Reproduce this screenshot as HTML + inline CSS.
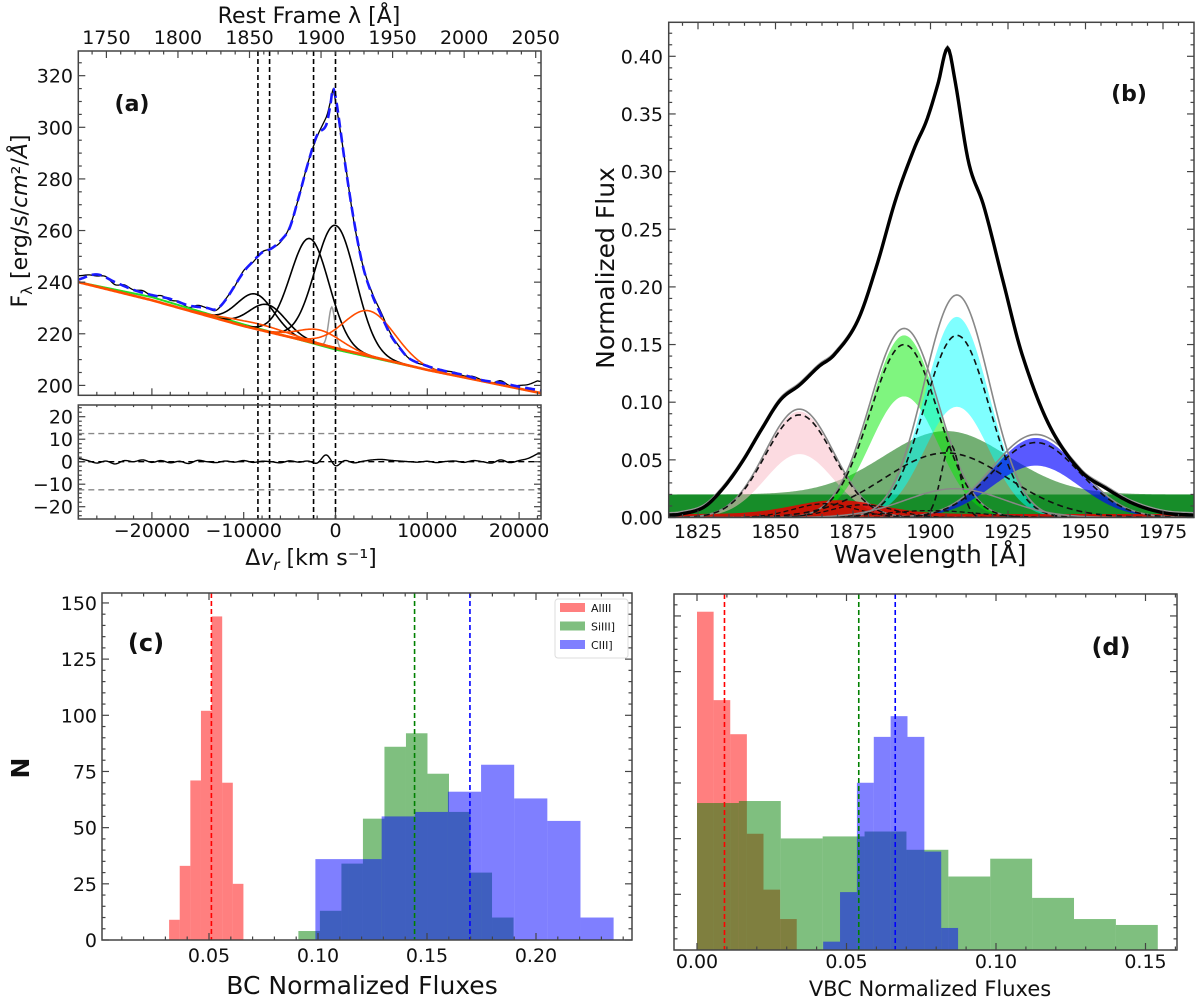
<!DOCTYPE html>
<html><head><meta charset="utf-8"><style>
html,body{margin:0;padding:0;background:#fff;}
svg{display:block;font-family:"DejaVu Sans","Liberation Sans",sans-serif;}
</style></head><body>
<svg id="fig" width="1200" height="1002" viewBox="0 0 1200 1002" xmlns="http://www.w3.org/2000/svg">
<defs>
<clipPath id="clipA"><rect x="78.3" y="51" width="462.7" height="344.3"/></clipPath>
<clipPath id="clipR"><rect x="78.3" y="405" width="462.7" height="114"/></clipPath>
<clipPath id="clipB"><rect x="668.7" y="22.3" width="525.3" height="495.2"/></clipPath>
<clipPath id="clipC"><rect x="102" y="593" width="530" height="347"/></clipPath>
<clipPath id="clipD"><rect x="674" y="594" width="503" height="356"/></clipPath>
</defs>
<rect x="0" y="0" width="1200" height="1002" fill="#fff"/>
<g id="gA"></g>
<g id="gB"></g>
<g id="gC"></g>
<g id="gD"></g>
</svg>
<script>
// ---------- Panel (a) data ----------
const aFitV = [-28000,-26000,-24000,-22000,-20000,-18000,-16000,-14000,-13000,-12000,-10000,-9000,-8000,-7000,-6000,-5000,-4000,-3000,-2000,-1000,-500,-300,0,500,1000,2000,3000,4000,5000,6000,7000,8000,10000,12000,14000,16000,18000,20000,22400];
const aFitF = [241,243,240,237,235,233.5,231,230,229.5,233,244,248,251.5,253,256,261,273,286,297,301,310,315,312,300,287,264,246,235,227,219.5,214.5,210.5,207.5,205.5,204,202,201,199.5,198];
const aContV = [-28000,-20000,-10000,0,10000,22400];
const aContF = [240,233,223,214.5,206,197];
const aGreenOff = [0,1.2,0.6,-0.6,0,0];
const aBlackCenters = [-8700,-7400,-2800,0];
const aBlackAmps = [13.5,10.5,40,47.5];
const aBlackSigmas = [2000,2000,2100,2200];
const aOrangeCenters = [3700,-1700,-8500];
const aOrangeAmps = [17.5,5.5,2.2];
const aOrangeSigmas = [2800,2300,3500];
const aGrayCenter = [-400], aGrayAmp = [15.5], aGraySigma = [350];
const aLineMarks = [-8450,-7180,-2390,0];
const aResidStart = -28000, aResidStep = 1000;
const aResid = [1.5,0.5,-0.6,0.3,-1.0,0.5,0,0.8,-0.3,0.5,-0.5,0.2,-0.8,0.6,0,-0.4,0.3,-0.2,0.5,-0.3,0.2,0,-0.5,0.4,-0.2,0.3,-0.6,3.0,-1.8,0.5,-0.5,0.2,0.8,1.0,0.6,0.3,0,-0.2,0.2,-0.4,0.1,0.3,-0.3,0.5,0,-0.6,0.8,-0.4,0.5,1.5,3.5];
const aYTicks = [200,220,240,260,280,300,320];
const aXTicks = [-20000,-10000,0,10000,20000];
const aTopTicks = [1750,1800,1850,1900,1950,2000,2050];
const aRTicks = [20,10,0,-10,-20];
const aRLimits = [12.5,-12.5];

// ---------- Panel (b) data ----------
const bTotalL = [1815,1819.4,1826.9,1833,1839.2,1845.4,1851.6,1857.8,1864,1868.9,1876.4,1882.6,1888.8,1894.9,1898.7,1902.4,1905.5,1907.9,1912.3,1917.2,1923.4,1929.6,1938.3,1948.2,1956.8,1965.5,1975.4,1985];
const bTotalF = [0.002,0.003,0.009,0.025,0.048,0.076,0.102,0.115,0.131,0.141,0.170,0.218,0.276,0.321,0.344,0.376,0.407,0.379,0.308,0.270,0.205,0.141,0.080,0.041,0.025,0.012,0.004,0.002];
const bCompCenters = [1857.7,1891.5,1908.5,1934];
const bCompSigmas = [11,11,10.5,14];
const bCompLow = [0.055,0.105,0.096,0.045];
const bCompHigh = [0.092,0.158,0.174,0.069];
const bCompMid = [0.089,0.150,0.158,0.065];
const bCompGray = [0.094,0.164,0.193,0.072];
const bCompColors = ["rgba(250,190,200,0.55)","rgba(0,235,0,0.5)","rgba(0,255,255,0.5)","rgba(0,0,255,0.65)"];
const bBroadCenter = 1905, bBroadSigma = 20, bBroadBase = 0.02, bBroadAmp = 0.055, bBroadMid = 0.056;
const bNarrowCenter = 1906.5, bNarrowAmp = 0.063, bNarrowSigma = 3;
const bRedCenters = [1866,1878,1900], bRedAmps = [0.012,0.011,0.006], bRedSigmas = [10,10,15];
const bGrayCenter = 1908, bGrayAmp = 0.025, bGraySigma = 16;
const bYTicks = [0,0.05,0.10,0.15,0.20,0.25,0.30,0.35,0.40];
const bXTicks = [1825,1850,1875,1900,1925,1950,1975];

// ---------- Panel (c) data ----------
const cAlStart = 0.0317, cAlWidth = 0.00487;
const cAlCounts = [9,33,71,102,144,70,25];
const cSiStart = 0.0910, cSiWidth = 0.00987;
const cSiCounts = [4,13,34,54,86,92,74,57,30,10];
const cCStart = 0.0988, cCWidth = 0.0152;
const cCCounts = [36,36,55,57,66,78,63,53,10];
const cMeans = [0.0511,0.1443,0.1697];
const cYTicks = [0,25,50,75,100,125,150];
const cXTicks = [0.05,0.10,0.15,0.20];
const cLegend = ["AlIII","SiIII]","CIII]"];

// ---------- Panel (d) data ----------
const dAlStart = 0, dAlWidth = 0.00556;
const dAlCounts = [151.9,112.2,96.9,52.2,27.1,13.9];
const dSiStart = 0, dSiWidth = 0.01401;
const dSiCounts = [66,66.9,50.1,51,53.2,45,33,41,23.4,13.9,11.25];
const dCStart = 0.0422, dCWidth = 0.00564;
const dCCounts = [3.75,26,75.1,95.7,105,95.7,44.2,9.9];
const dMeans = [0.00919,0.0541,0.0663];
const dYTicks = [0,25,50,75,100,125,150];
const dXTicks = [0.00,0.05,0.10,0.15];

// ---------- helpers ----------
const NS = "http://www.w3.org/2000/svg";
function mk(tag, attrs, parent){ const e=document.createElementNS(NS,tag); for(const k in attrs) e.setAttribute(k,attrs[k]); parent.appendChild(e); return e; }
function interp(xs, ys, x){ if(x<=xs[0]) return ys[0]; for(let i=1;i<xs.length;i++){ if(x<=xs[i]){ const t=(x-xs[i-1])/(xs[i]-xs[i-1]); return ys[i-1]+t*(ys[i]-ys[i-1]); } } return ys[ys.length-1]; }
// smooth (cubic Hermite / Catmull-Rom) interpolation
function smooth(xs, ys, x){
  const n=xs.length; if(x<=xs[0]) return ys[0]; if(x>=xs[n-1]) return ys[n-1];
  let i=1; while(x>xs[i]) i++;
  const x0=xs[i-1], x1=xs[i], y0=ys[i-1], y1=ys[i];
  const m = k => { const a=Math.max(0,k-1), b=Math.min(n-1,k+1); return (ys[b]-ys[a])/(xs[b]-xs[a]); };
  const h=x1-x0, t=(x-x0)/h, t2=t*t, t3=t2*t;
  return (2*t3-3*t2+1)*y0 + (t3-2*t2+t)*h*m(i-1) + (-2*t3+3*t2)*y1 + (t3-t2)*h*m(i);
}
function gauss(x,c,a,s){ return a*Math.exp(-(x-c)*(x-c)/(2*s*s)); }
function pathD(pts){ return pts.map((p,i)=>(i?"L":"M")+p[0].toFixed(2)+","+p[1].toFixed(2)).join(""); }
const fmtMinus = s => String(s).replace("-","\u2212");

// ---------- Panel (a) ----------
const gA = document.getElementById("gA");
const ax = v => 335.5 + v*0.00918;
const ay = f => 385.4 - (f-200)*2.581;
const ry = r => 461.7 - r*2.25;
const tl = l => 106.4 + (l-1750)*1.431;
const cont = v => interp(aContV, aContF, v);
const fitAt = v => smooth(aFitV, aFitF, v);
const aClip = mk("g",{"clip-path":"url(#clipA)"},gA);


function sampleA(fn){ const pts=[]; for(let v=-28100; v<=22500; v+=100) pts.push([ax(v),ay(fn(v))]); return pts; }
const residAt = v => smooth(aResid.map((_,i)=>aResidStart+i*aResidStep), aResid, v);
const obs = mk("path",{d:pathD(sampleA(v=>fitAt(v)+residAt(v))),fill:"none",stroke:"#000","stroke-width":1.3},aClip);


const green = mk("path",{d:pathD(sampleA(v=>cont(v)+interp(aContV,aGreenOff,v))),fill:"none",stroke:"#22dd22","stroke-width":2},aClip);


for(let i=0;i<aBlackCenters.length;i++){
  const p = mk("path",{d:pathD(sampleA(v=>cont(v)+gauss(v,aBlackCenters[i],aBlackAmps[i],aBlackSigmas[i]))),fill:"none",stroke:"#000","stroke-width":1.6},aClip);
  
  
}
const gn = mk("path",{d:pathD(sampleA(v=>cont(v)+gauss(v,aGrayCenter[0],aGrayAmp[0],aGraySigma[0]))),fill:"none",stroke:"#999","stroke-width":1.5},aClip);


for(let i=0;i<aOrangeCenters.length;i++){
  const p = mk("path",{d:pathD(sampleA(v=>cont(v)+gauss(v,aOrangeCenters[i],aOrangeAmps[i],aOrangeSigmas[i]))),fill:"none",stroke:"#ff4d00","stroke-width":1.6},aClip);
  
  
}
const oc = mk("path",{d:pathD(sampleA(cont)),fill:"none",stroke:"#ff4d00","stroke-width":2.6},aClip);


const fit = mk("path",{d:pathD(sampleA(fitAt)),fill:"none",stroke:"#1a1aff","stroke-width":2.6,"stroke-dasharray":"10,5"},aClip);


for(const v of aLineMarks){
  const l = mk("line",{x1:ax(v),x2:ax(v),y1:51,y2:519,stroke:"#000","stroke-width":1.6,"stroke-dasharray":"5,3"},gA);
  
  
}
const rClip = mk("g",{"clip-path":"url(#clipR)"},gA);


for(const r of aRLimits){
  const l = mk("line",{x1:78.3,x2:541,y1:ry(r),y2:ry(r),stroke:"#888","stroke-width":1.4,"stroke-dasharray":"6,4"},rClip);
  
  
}
const z0 = mk("line",{x1:78.3,x2:541,y1:ry(0),y2:ry(0),stroke:"#000","stroke-width":1.4,"stroke-dasharray":"6,4"},rClip);


const rpts=[]; for(let v=-28100; v<=22500; v+=100) rpts.push([ax(v),ry(residAt(v))]);
const rl = mk("path",{d:pathD(rpts),fill:"none",stroke:"#000","stroke-width":1.4},rClip);



function frame(g,x,y,w,h,name){
  const r = mk("rect",{x:x,y:y,width:w,height:h,fill:"none",stroke:"#444","stroke-width":1.5},g);
  
  
}
function tickLine(g,x1,y1,x2,y2){
  const t = mk("line",{x1:x1,y1:y1,x2:x2,y2:y2,stroke:"#444","stroke-width":1.2},g);
  
  
}
function label(g,txt,x,y,size,anchor,name,extra){
  const t = mk("text",Object.assign({x:x,y:y,"font-size":size,"text-anchor":anchor||"middle",fill:"#111"},extra||{}),g);
  t.textContent = txt;
  
  
  return t;
}
frame(gA,78.3,51,462.7,344.3,'main-frame');
frame(gA,78.3,405,462.7,114,'residual-frame');
for(let f=200; f<=325; f+=5){ const len = f%20===0?7:3.5; tickLine(gA,78.3,ay(f),78.3+len,ay(f)); tickLine(gA,541,ay(f),541-len,ay(f)); }
for(const f of aYTicks) label(gA,String(f),73,ay(f)+7,19,"end",'y-tick-label');
for(let v=-28000; v<=22000; v+=2000){ const len = v%10000===0?7:3.5; tickLine(gA,ax(v),395.3,ax(v),395.3-len); tickLine(gA,ax(v),519,ax(v),519-len); tickLine(gA,ax(v),405,ax(v),405+len*0.6); }
for(const v of aXTicks) label(gA,fmtMinus(v),ax(v),537,19,"middle",'x-tick-label');
for(let l=1740; l<=2060; l+=10){ const x=tl(l); if(x<78.3||x>541) continue; const len=l%50===0?7:3.5; tickLine(gA,x,51,x,51+len); }
for(const l of aTopTicks) label(gA,String(l),tl(l),44,19,"middle",'top-tick-label');
for(let r=-24; r<=24; r+=2){ const len = r%10===0?7:3.5; tickLine(gA,78.3,ry(r),78.3+len,ry(r)); tickLine(gA,541,ry(r),541-len,ry(r)); }
for(const r of aRTicks) label(gA,fmtMinus(r),73,ry(r)+7,19,"end",'residual-tick-label');
label(gA,"Rest Frame \u03bb [\u00c5]",309,23,22,"middle",'top-axis-title');
const xa = label(gA,"",311,565,22,"middle",'x-axis-title');
xa.innerHTML = '\u0394<tspan font-style="italic">v</tspan><tspan font-style="italic" font-size="15" dy="5">r</tspan><tspan dy="-5"> [km s\u207b\u00b9]</tspan>';
const ya = label(gA,"",27,221,22,"middle",'y-axis-title',{transform:"rotate(-90 27 221)"});
ya.innerHTML = 'F<tspan font-size="15" dy="5">\u03bb</tspan><tspan dy="-5"> [erg/s/</tspan><tspan font-style="italic">cm</tspan>\u00b2/<tspan font-style="italic">\u00c5</tspan>]';
label(gA,"(a)",132,111,22,"middle",'panel-label-a',{"font-weight":"bold"});

// ---------- Panel (b) ----------
const gB = document.getElementById("gB");
const bx = l => 698 + (l-1825)*3.1;
const by = f => 517.5 - f*1153;
const bClip = mk("g",{"clip-path":"url(#clipB)"},gB);


function sampleB(fn){ const pts=[]; for(let l=1814; l<=1986; l+=0.5) pts.push([bx(l),by(fn(l))]); return pts; }
function band(fnLow, fnHigh, color, name){
  const up = sampleB(fnHigh), lo = sampleB(fnLow).reverse();
  const p = mk("path",{d:pathD(up.concat(lo))+"Z",fill:color,stroke:"none"},bClip);
  
  
}
band(()=>0, ()=>bBroadBase, "rgba(0,160,50,0.8)", 'baseline-band');
band(()=>0, l=>bBroadBase+gauss(l,bBroadCenter,bBroadAmp,bBroadSigma), "rgba(0,110,0,0.55)", 'broad-siiii-band');
for(let i=0;i<bCompCenters.length;i++){
  band(l=>gauss(l,bCompCenters[i],bCompLow[i],bCompSigmas[i]), l=>gauss(l,bCompCenters[i],bCompHigh[i],bCompSigmas[i]), bCompColors[i], 'component-band-'+i);
}
band(()=>0, l=>gauss(l,1870,0.012,14)+0.003, "rgba(230,0,0,0.85)", 'aliii-vbc-band');
function curveB(fn, stroke, w, dash, name){
  const p = mk("path",{d:pathD(sampleB(fn)),fill:"none",stroke:stroke,"stroke-width":w},bClip);
  if(dash) p.setAttribute("stroke-dasharray",dash);
  
  
}
for(let i=0;i<bCompCenters.length;i++){
  curveB(l=>gauss(l,bCompCenters[i],bCompGray[i],bCompSigmas[i]), "#888", 1.6, null, 'component-gray-'+i);
  curveB(l=>gauss(l,bCompCenters[i],bCompMid[i],bCompSigmas[i]), "#111", 1.6, "6,4", 'component-dashed-'+i);
}
curveB(l=>gauss(l,bBroadCenter,bBroadMid,bBroadSigma), "#111", 1.6, "6,4", 'broad-dashed');
curveB(l=>gauss(l,bNarrowCenter,bNarrowAmp,bNarrowSigma), "#111", 1.6, "6,4", 'narrow-dashed');
for(let i=0;i<bRedCenters.length;i++) curveB(l=>gauss(l,bRedCenters[i],bRedAmps[i],bRedSigmas[i]), "#111", 1.3, "5,3", 'red-dashed-'+i);
curveB(l=>gauss(l,bGrayCenter,bGrayAmp,bGraySigma), "#888", 1.5, null, 'gray-component');
curveB(l=>smooth(bTotalL,bTotalF,l)+0.002, "#999", 1.5, null, 'observed-normalized');
curveB(l=>smooth(bTotalL,bTotalF,l), "#000", 3.4, null, 'total-normalized-fit');
frame(gB,668.7,22.3,525.3,495.2,'frame-b');
for(let f=0; f<=0.43; f+=0.01){ const fr=Math.round(f*100); const len = fr%5===0?7:3.5; tickLine(gB,668.7,by(f),668.7+len,by(f)); tickLine(gB,1194,by(f),1194-len,by(f)); }
for(const f of bYTicks) label(gB,f.toFixed(2),663,by(f)+7,19,"end",'y-tick-label');
for(let l=1820; l<=1980; l+=5){ const len = l%25===0?7:3.5; tickLine(gB,bx(l),517.5,bx(l),517.5-len); tickLine(gB,bx(l),22.3,bx(l),22.3+len); }
for(const l of bXTicks) label(gB,String(l),bx(l),538,19,"middle",'x-tick-label');
label(gB,"Wavelength [\u00c5]",930,563,25,"middle",'x-axis-title');
label(gB,"Normalized Flux",614,268,25,"middle",'y-axis-title',{transform:"rotate(-90 614 268)"});
label(gB,"(b)",1129,101,22,"middle",'panel-label-b',{"font-weight":"bold"});

// ---------- histograms ----------
function hist(g, clip, sx, sy, start, width, counts, color, name){
  for(let i=0;i<counts.length;i++){
    const x0 = sx(start+i*width), x1 = sx(start+(i+1)*width);
    const r = mk("rect",{x:x0,y:sy(counts[i]),width:x1-x0,height:sy(0)-sy(counts[i]),fill:color,"fill-opacity":0.5},clip);
    
    
  }
}
const gC = document.getElementById("gC");
const cx = v => 209 + (v-0.05)*2180;
const cy = n => 940 - n*2.247;
const cClip = mk("g",{"clip-path":"url(#clipC)"},gC);


hist(gC,cClip,cx,cy,cAlStart,cAlWidth,cAlCounts,"#ff0000",'aliii');
hist(gC,cClip,cx,cy,cSiStart,cSiWidth,cSiCounts,"#008000",'siiii');
hist(gC,cClip,cx,cy,cCStart,cCWidth,cCCounts,"#0000ff",'ciii');
const meanCols = ["#ff0000","#008000","#0000ff"];
for(let i=0;i<3;i++){
  const l = mk("line",{x1:cx(cMeans[i]),x2:cx(cMeans[i]),y1:593,y2:940,stroke:meanCols[i],"stroke-width":1.6,"stroke-dasharray":"5,3"},cClip);
  
  
}
frame(gC,102,593,530,347,'frame-c');
for(let n=0; n<=154; n+=5){ const len = n%25===0?7:3.5; tickLine(gC,102,cy(n),102+len,cy(n)); tickLine(gC,632,cy(n),632-len,cy(n)); }
for(const n of cYTicks) label(gC,String(n),97,cy(n)+7,19,"end",'y-tick-label');
for(let v=0.01; v<=0.245; v+=0.01){ const vr=Math.round(v*100); const len = vr%5===0?7:3.5; tickLine(gC,cx(v),940,cx(v),940-len); tickLine(gC,cx(v),593,cx(v),593+len); }
for(const v of cXTicks) label(gC,v.toFixed(2),cx(v),962,19,"middle",'x-tick-label');
label(gC,"BC Normalized Fluxes",362,994,25,"middle",'x-axis-title');
label(gC,"N",29,768,25,"middle",'y-axis-title',{transform:"rotate(-90 29 768)","font-weight":"bold"});
label(gC,"(c)",146,651,24,"middle",'panel-label-c',{"font-weight":"bold"});
const lg = mk("g",{},gC);


const lb = mk("rect",{x:555,y:599,width:73,height:59,rx:3,fill:"#fff",stroke:"#ddd","stroke-width":1},lg);


for(let i=0;i<3;i++){
  const yy = 603 + i*18.5;
  const p = mk("rect",{x:560,y:yy,width:25,height:9,fill:meanCols[i],"fill-opacity":0.5},lg);
  
  
  label(lg,cLegend[i],591,yy+9,11,"start",'legend-entry');
}

const gD = document.getElementById("gD");
const dx = v => 697 + v*2990;
const dy = n => 950 - n*2.227;
const dClip = mk("g",{"clip-path":"url(#clipD)"},gD);


hist(gD,dClip,dx,dy,dAlStart,dAlWidth,dAlCounts,"#ff0000",'aliii');
hist(gD,dClip,dx,dy,dSiStart,dSiWidth,dSiCounts,"#008000",'siiii');
hist(gD,dClip,dx,dy,dCStart,dCWidth,dCCounts,"#0000ff",'ciii');
for(let i=0;i<3;i++){
  const l = mk("line",{x1:dx(dMeans[i]),x2:dx(dMeans[i]),y1:594,y2:950,stroke:meanCols[i],"stroke-width":1.6,"stroke-dasharray":"5,3"},dClip);
  
  
}
frame(gD,674,594,503,356,'frame-d');
for(let n=0; n<=155; n+=5){ const len = n%25===0?7:3.5; tickLine(gD,674,dy(n),674+len,dy(n)); tickLine(gD,1177,dy(n),1177-len,dy(n)); }
for(let v=0; v<=0.16; v+=0.01){ const vr=Math.round(v*100); const len = vr%5===0?7:3.5; tickLine(gD,dx(v),950,dx(v),950-len); tickLine(gD,dx(v),594,dx(v),594+len); }
for(const v of dXTicks) label(gD,v.toFixed(2),dx(v),968,19,"middle",'x-tick-label');
label(gD,"VBC Normalized Fluxes",930,996,21,"middle",'x-axis-title');
label(gD,"(d)",1111,655,24,"middle",'panel-label-d',{"font-weight":"bold"});
</script>
</body></html>
